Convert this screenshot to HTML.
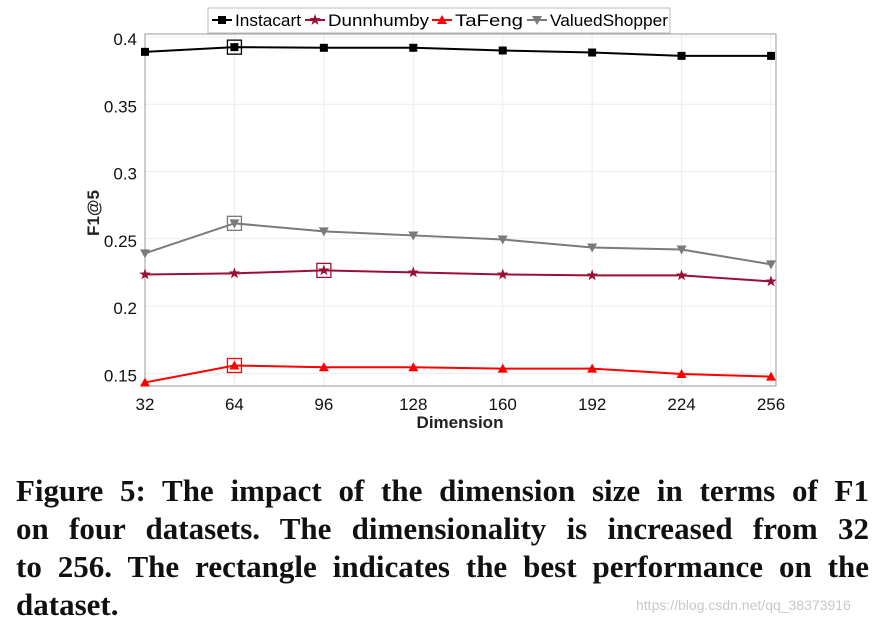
<!DOCTYPE html>
<html><head><meta charset="utf-8"><style>
body{margin:0;background:#fff;width:888px;height:626px;overflow:hidden;position:relative}
#cap{position:absolute;left:16px;top:472px;width:853px;font:bold 31px/38px "Liberation Serif",serif;color:#111;letter-spacing:0px}
#cap div{text-align:justify;text-align-last:justify;white-space:nowrap}
#cap div.last{text-align-last:left}
#wm{position:absolute;left:636px;top:597px;font:14px "Liberation Sans",sans-serif;color:#c8c8c8}
</style></head><body>
<svg id="chart" width="888" height="470" style="position:absolute;left:0;top:0" font-family="Liberation Sans, sans-serif"></svg>
<div id="cap"><div>Figure 5: The impact of the dimension size in terms of F1</div><div>on four datasets. The dimensionality is increased from 32</div><div>to 256. The rectangle indicates the best performance on the</div><div class="last">dataset.</div></div>
<div id="wm">https://blog.csdn.net/qq_38373916</div>
<script>
const dims=[32,64,96,128,160,192,224,256];
const yTicks=[0.15,0.2,0.25,0.3,0.35,0.4];
const yTickLabels=["0.15","0.2","0.25","0.3","0.35","0.4"];
const instacart=[0.389,0.3925,0.392,0.392,0.390,0.3885,0.386,0.386];
const dunnhumby=[0.2235,0.2243,0.2265,0.225,0.2235,0.2228,0.2228,0.2183];
const tafeng=[0.1432,0.1558,0.1545,0.1545,0.1535,0.1535,0.1495,0.1475];
const valued=[0.2392,0.2615,0.2555,0.2525,0.2495,0.2435,0.242,0.231];
const bestIdx=[1,2,1,1];
const names=["Instacart","Dunnhumby","TaFeng","ValuedShopper"];
const colors=["#000000","#9a0f38","#ff0000","#7a7a7a"];
const svg=document.getElementById('chart');const NS="http://www.w3.org/2000/svg";
const L=145,R=776,T=34,B=386;
const xs=d=>L+(d-32)/(256-32)*(771-L);
const ys=v=>373.3-(v-0.15)*1345;
function mk(t,a,p){const e=document.createElementNS(NS,t);for(const k in a)e.setAttribute(k,a[k]);(p||svg).appendChild(e);return e;}
dims.forEach(d=>{const g=mk('line',{x1:xs(d),x2:xs(d),y1:T,y2:B,stroke:'#ececec'});

const t=mk('text',{x:xs(d),y:410,'text-anchor':'middle','font-size':17,fill:'#111'});t.textContent=d;
});
yTicks.forEach((v,i)=>{const g=mk('line',{x1:L,x2:R,y1:ys(v),y2:ys(v),stroke:'#ececec'});

const t=mk('text',{x:L-8,y:ys(v)+8,'text-anchor':'end','font-size':17,fill:'#111'});t.textContent=yTickLabels[i];
});
const box=mk('rect',{x:L,y:T,width:R-L,height:B-T,fill:'none',stroke:'#999'});

const series=[instacart,dunnhumby,tafeng,valued];
function marker(k,x,y,c,p){
 if(k==0)return mk('rect',{x:x-4,y:y-4,width:8,height:8,fill:c},p);
 if(k==1){let pts=[];for(let i=0;i<10;i++){const r=i%2?2.4:6,a=-Math.PI/2+i*Math.PI/5;pts.push((x+r*Math.cos(a))+','+(y+r*Math.sin(a)));}return mk('polygon',{points:pts.join(' '),fill:c},p);}
 if(k==2)return mk('polygon',{points:`${x},${y-5} ${x-5},${y+4} ${x+5},${y+4}`,fill:c},p);
 return mk('polygon',{points:`${x},${y+5} ${x-5},${y-4} ${x+5},${y-4}`,fill:c},p);}
series.forEach((s,k)=>{
 const g=mk('g',{});
 mk('polyline',{points:s.map((v,i)=>xs(dims[i])+','+ys(v)).join(' '),fill:'none',stroke:colors[k],'stroke-width':2},g);
 s.forEach((v,i)=>{const m=marker(k,xs(dims[i]),ys(v),colors[k],g);});
 const b=bestIdx[k];const r=mk('rect',{x:xs(dims[b])-7,y:ys(s[b])-7,width:14,height:14,fill:'none',stroke:colors[k],'stroke-width':1.3},g);
 });
const lg=mk('g',{});
mk('rect',{x:208,y:8,width:462,height:25,fill:'#fff',stroke:'#bbb'},lg);
const lx=[212,305,432,527];
const lw=[66,101,68,118];
names.forEach((n,k)=>{const e=mk('g',{},lg);
 mk('line',{x1:lx[k],x2:lx[k]+20,y1:20,y2:20,stroke:colors[k],'stroke-width':2},e);marker(k,lx[k]+10,20,colors[k],e);
 const t=mk('text',{x:lx[k]+23,y:26,'font-size':17,textLength:lw[k],lengthAdjust:'spacingAndGlyphs'},e);t.textContent=n;});
const xt=mk('text',{x:460,y:428,'text-anchor':'middle','font-size':17,'font-weight':'bold',fill:'#222'});xt.textContent='Dimension';

const yt=mk('text',{x:0,y:0,'text-anchor':'middle','font-size':17,'font-weight':'bold',fill:'#222',transform:'translate(99,213) rotate(-90)'});yt.textContent='F1@5';

</script>
</body></html>
